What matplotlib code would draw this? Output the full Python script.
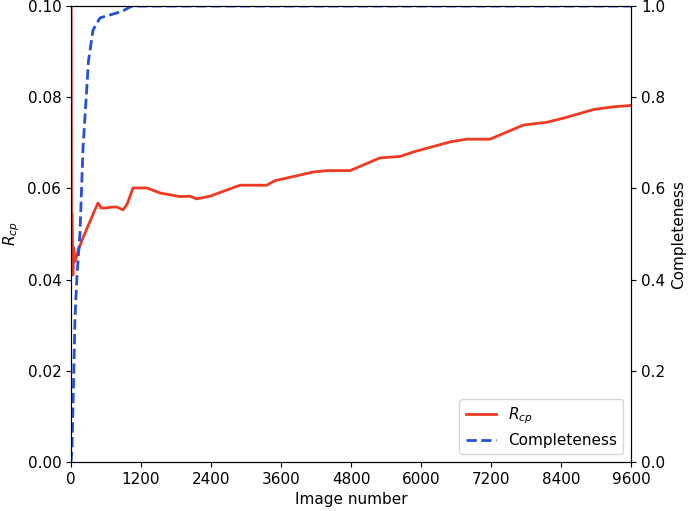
import matplotlib
matplotlib.use("Agg")
import matplotlib.pyplot as plt

# R_cp vs image number
rcp_images = [0, 8, 20, 32, 45, 70, 126, 200, 300, 400, 463, 520, 583, 700, 789, 892, 960,
              1063, 1200, 1303, 1526, 1869, 2040, 2154, 2383, 2897, 3354, 3497, 4154, 4383,
              4783, 5297, 5640, 5869, 6497, 6783, 7183, 7754, 8154, 8440, 8954, 9297, 9600]
rcp_values = [0.12, 0.055, 0.054, 0.041, 0.047, 0.044, 0.0465, 0.049, 0.052, 0.055, 0.0568, 0.0557,
              0.0557, 0.0559, 0.0559, 0.0553, 0.0565, 0.0601, 0.0601, 0.0601, 0.059, 0.0582,
              0.0583, 0.0577, 0.0583, 0.0607, 0.0607, 0.0617, 0.0636, 0.0639, 0.0639, 0.0667,
              0.0670, 0.0680, 0.0702, 0.0708, 0.0708, 0.0739, 0.0745, 0.0754, 0.0773, 0.0779,
              0.0782]

# completeness vs image number
comp_images = [0, 17, 69, 103, 154, 206, 240, 300, 377, 497, 789, 900, 1012, 1132, 9600]
comp_values = [0.0, 0.026, 0.318, 0.41, 0.502, 0.69, 0.757, 0.88, 0.947, 0.974, 0.985, 0.99,
               0.998, 1.0, 1.0]

x_ticks = [0, 1200, 2400, 3600, 4800, 6000, 7200, 8400, 9600]

plt.rcParams["font.size"] = 11

fig = plt.figure(figsize=(6.92, 5.11), dpi=100)
ax = fig.add_axes([0.1026, 0.0959, 0.8094, 0.8923])
ax2 = ax.twinx()

line1, = ax.plot(rcp_images, rcp_values, color="#ee3a22", linewidth=2, label="$R_{cp}$")
line2, = ax2.plot(comp_images, comp_values, color="#2250dd", linewidth=2, linestyle="--",
                  label="Completeness")

ax.set_xlim(0, 9600)
ax.set_ylim(0, 0.10)
ax2.set_ylim(0, 1.0)
ax.set_xticks(x_ticks)
ax.set_yticks([0, 0.02, 0.04, 0.06, 0.08, 0.10])
ax.set_yticklabels(["0.00", "0.02", "0.04", "0.06", "0.08", "0.10"])
ax2.set_yticks([0, 0.2, 0.4, 0.6, 0.8, 1.0])

ax.set_xlabel("Image number")
ax.set_ylabel("$R_{cp}$")
ax2.set_ylabel("Completeness")

ax2.legend([line1, line2], ["$R_{cp}$", "Completeness"], loc="lower right")

fig.savefig("out.png", dpi=100)
